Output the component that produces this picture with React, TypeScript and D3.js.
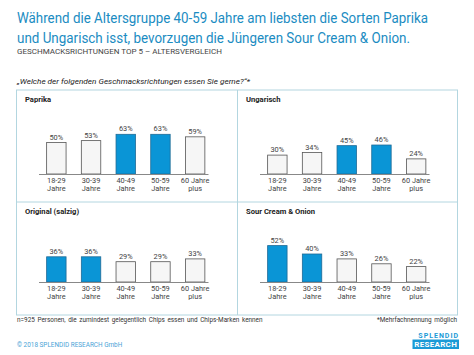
import React from "react";
import * as d3 from "d3";

const title1 = "Während die Altersgruppe 40-59 Jahre am liebsten die Sorten Paprika";
const title2 = "und Ungarisch isst, bevorzugen die Jüngeren Sour Cream & Onion.";
const subtitle = "GESCHMACKSRICHTUNGEN TOP 5 – ALTERSVERGLEICH";
const question = "„Welche der folgenden Geschmacksrichtungen essen Sie gerne?\u201C*";
const footLeft = "n=925 Personen, die zumindest gelegentlich Chips essen und Chips-Marken kennen";
const footRight = "*Mehrfachnennung möglich";
const copyright = "© 2018 SPLENDID RESEARCH GmbH";

const ageGroups = ["18-29", "30-39", "40-49", "50-59", "60"];
const ageLine1 = ["18-29", "30-39", "40-49", "50-59", "60 Jahre"];
const ageLine2 = ["Jahre", "Jahre", "Jahre", "Jahre", "plus"];

const flavors = ["Paprika", "Ungarisch", "Original (salzig)", "Sour Cream & Onion"];
const paprika = [50, 53, 63, 63, 59];
const ungarisch = [30, 34, 45, 46, 24];
const original = [36, 36, 29, 29, 33];
const sourCream = [52, 40, 33, 26, 22];
const highlight = [
  [false, false, true, true, false],
  [false, false, true, true, false],
  [true, true, false, false, false],
  [true, true, false, false, false],
];
const seriesList = [paprika, ungarisch, original, sourCream];

const BLUE = "#0a95d6";
const TITLE_BLUE = "#1b8cc2";
const BORDER = "#b3d6e0";
const FONT = "Roboto, 'Noto Sans', sans-serif";

function Panel({ idx }: { idx: number }) {
  const col = idx % 2;
  const row = Math.floor(idx / 2);
  const x0 = col === 0 ? 16.5 : 237.5;
  const y0 = row === 0 ? 90 : 202;
  const baseline = row === 0 ? 174 : 282;
  const plotH = row === 0 ? 63 : 70;
  const values = seriesList[idx];

  const x = d3
    .scaleBand<string>()
    .domain(ageGroups)
    .range([x0 + 22.5, x0 + 196])
    .paddingInner(0.44)
    .paddingOuter(0.22);
  const y = d3.scaleLinear().domain([0, 100]).range([baseline, baseline - plotH]);

  return (
    <g>
      <text x={x0 + 8.5} y={y0 + 12} fontFamily={FONT} fontWeight="bold" fontSize={7.6} fill="#222">
        {flavors[idx]}
      </text>
      {values.map((v, i) => {
        const bx = x(ageGroups[i])!;
        const bw = x.bandwidth();
        const top = y(v);
        const hi = highlight[idx][i];
        return (
          <g key={i}>
            <rect
              x={bx}
              y={top}
              width={bw}
              height={baseline - top}
              fill={hi ? BLUE : "#f6f6f6"}
              stroke={hi ? "#1f6a96" : "#555"}
              strokeWidth={0.8}
            />
            <text
              x={bx + bw / 2}
              y={top - 3}
              textAnchor="middle"
              fontFamily={FONT}
              fontSize={7.4}
              fill="#444"
            >
              {v}%
            </text>
            <text x={bx + bw / 2} y={baseline + 9} textAnchor="middle" fontFamily={FONT} fontSize={7.4} fill="#444">
              {ageLine1[i]}
            </text>
            <text x={bx + bw / 2} y={baseline + 17.2} textAnchor="middle" fontFamily={FONT} fontSize={7.4} fill="#444">
              {ageLine2[i]}
            </text>
          </g>
        );
      })}
      <line x1={x0 + 22.5} x2={x0 + 192} y1={baseline + 0.5} y2={baseline + 0.5} stroke="#888" strokeWidth={1} />
    </g>
  );
}

export default function App() {
  return (
    <svg
      width={474}
      height={355}
      style={{ position: "absolute", left: 0, top: 0, background: "#fff" }}
      xmlns="http://www.w3.org/2000/svg"
    >
      <rect x={0} y={0} width={474} height={355} fill="#fff" />
      <text x={17} y={23} fontFamily={FONT} fontSize={14} fill={TITLE_BLUE} textLength={411} lengthAdjust="spacingAndGlyphs">
        {title1}
      </text>
      <text x={17} y={42.5} fontFamily={FONT} fontSize={14} fill={TITLE_BLUE} textLength={393} lengthAdjust="spacingAndGlyphs">
        {title2}
      </text>
      <text x={17} y={53.5} fontFamily={FONT} fontSize={7.4} fill="#444" textLength={205} lengthAdjust="spacingAndGlyphs">
        {subtitle}
      </text>
      <text x={17} y={84} fontFamily={FONT} fontStyle="italic" fontSize={8} fill="#222" textLength={233} lengthAdjust="spacingAndGlyphs">
        {question}
      </text>

      <rect x={16.5} y={90} width={441} height={225} fill="#fff" stroke={BORDER} strokeWidth={1} />
      <line x1={237.5} x2={237.5} y1={90} y2={315} stroke={BORDER} strokeWidth={1} />
      <line x1={16.5} x2={457.5} y1={202} y2={202} stroke={BORDER} strokeWidth={1} />

      {[0, 1, 2, 3].map((i) => (
        <Panel key={i} idx={i} />
      ))}

      <text x={17} y={322} fontFamily={FONT} fontSize={6.4} fill="#333" wordSpacing={1}>
        {footLeft}
      </text>
      <text x={457} y={322} textAnchor="end" fontFamily={FONT} fontSize={6.4} fill="#333" wordSpacing={1}>
        {footRight}
      </text>
      <text x={17} y={347} fontFamily={FONT} fontSize={6.4} fill="#4aa3d6">
        {copyright}
      </text>

      <text x={459} y={338} textAnchor="end" fontFamily={FONT} fontWeight="bold" fontSize={7} letterSpacing={1} fill="#1a9ad6">
        SPLENDID
      </text>
      <rect x={412.5} y={339.5} width={46.5} height={9.5} fill="#1a9ad6" />
      <text x={435.7} y={347.3} textAnchor="middle" fontFamily={FONT} fontWeight="bold" fontSize={8} fill="#fff" letterSpacing={0.3}>
        RESEARCH
      </text>
    </svg>
  );
}
